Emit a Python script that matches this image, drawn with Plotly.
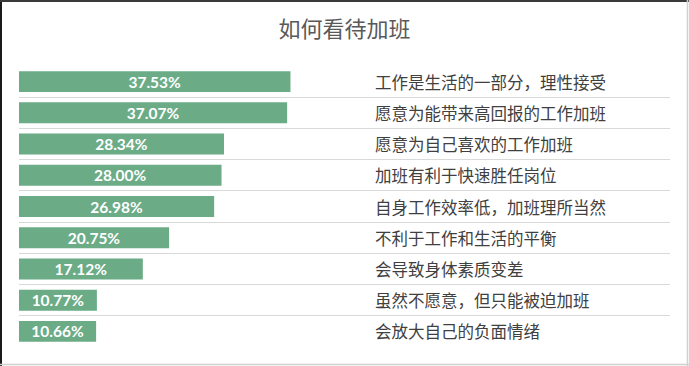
import plotly.graph_objects as go

categories = [
    "工作是生活的一部分，理性接受",
    "愿意为能带来高回报的工作加班",
    "愿意为自己喜欢的工作加班",
    "加班有利于快速胜任岗位",
    "自身工作效率低，加班理所当然",
    "不利于工作和生活的平衡",
    "会导致身体素质变差",
    "虽然不愿意，但只能被迫加班",
    "会放大自己的负面情绪",
]
values = [37.53, 37.07, 28.34, 28.00, 26.98, 20.75, 17.12, 10.77, 10.66]
title_text = "如何看待加班"

W, H = 689, 366
L, R, T, B = 19, 19, 66, 19
pw, ph = W - L - R, H - T - B

def px(x):
    return (x - L) / pw

def py(y):
    return (H - B - y) / ph

idx = list(range(len(categories)))

fig = go.Figure()
fig.add_trace(go.Bar(
    x=values, y=idx, orientation="h",
    marker=dict(color="#6BAC87", line=dict(width=0)),
    text=[f"{v:.2f}%" for v in values],
    textposition="inside", insidetextanchor="middle", constraintext="none",
    textfont=dict(family="Lato, Open Sans, sans-serif", size=15.5, color="white", weight="bold"),
    width=0.67,
    hoverinfo="skip",
))

annotations = []
for i, c in enumerate(categories):
    annotations.append(dict(
        x=px(373), xref="paper", y=i, yref="y", text=c, showarrow=False,
        xanchor="left", yanchor="middle",
        font=dict(family="Noto Sans CJK SC, sans-serif", size=16.5, color="#404040"),
    ))

shapes = [
    dict(type="line", xref="paper", yref="paper", x0=px(1), x1=px(1), y0=py(0), y1=py(366), line=dict(color="#1a1a1a", width=2)),
    dict(type="line", xref="paper", yref="paper", x0=px(0), x1=px(689), y0=py(1), y1=py(1), line=dict(color="#3a3a3a", width=2)),
    dict(type="line", xref="paper", yref="paper", x0=px(687.5), x1=px(687.5), y0=py(0), y1=py(366), line=dict(color="#d0d0d0", width=1.5)),
    dict(type="line", xref="paper", yref="paper", x0=px(0), x1=px(689), y0=py(364.5), y1=py(364.5), line=dict(color="#d0d0d0", width=1.5)),
]

fig.update_layout(
    width=W, height=H,
    margin=dict(l=L, r=R, t=T, b=B),
    paper_bgcolor="white", plot_bgcolor="white",
    showlegend=False,
    title=dict(text=title_text, x=0.5, xanchor="center", y=1 - 29 / H, yanchor="middle",
               font=dict(family="Noto Sans CJK SC, sans-serif", size=22, color="#595959")),
    xaxis=dict(range=[0, 90], showgrid=False, zeroline=False, showticklabels=False, showline=False, fixedrange=True),
    yaxis=dict(range=[len(categories) - 0.5, -0.5], tickvals=[i - 0.5 for i in range(len(categories) + 1)],
               showgrid=True, gridcolor="#d9d9d9", gridwidth=1, showticklabels=False, zeroline=False,
               showline=False, fixedrange=True),
    annotations=annotations,
    shapes=shapes,
)

fig.write_html("out.html")
